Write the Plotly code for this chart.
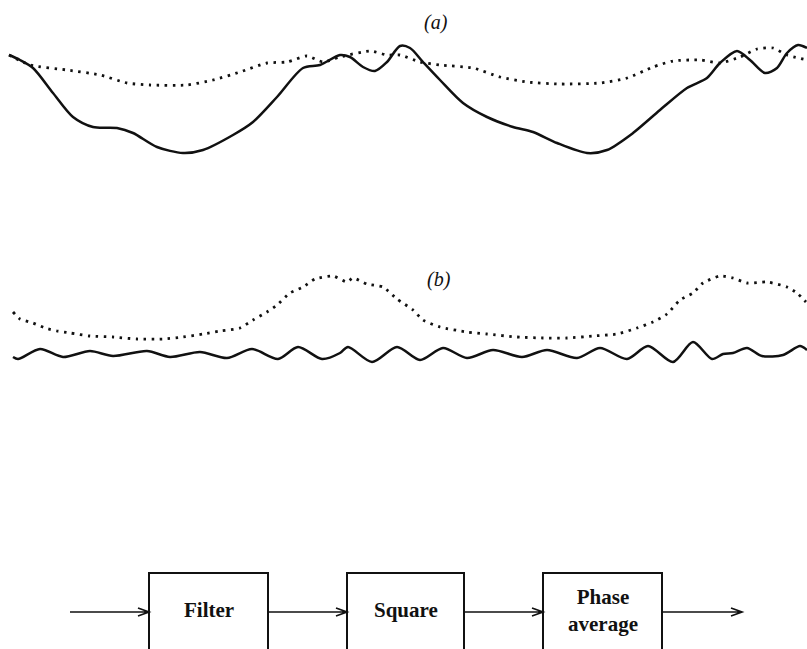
import plotly.graph_objects as go

W, H = 807, 649

# ---- (a) raw signal (solid) and its phase average (dotted) ----
t_a_raw = [9, 20, 33, 53, 73, 93, 117, 133, 157, 183, 203, 233, 253, 277, 303, 320, 340, 350,
           363, 375, 387, 400, 410, 423, 440, 463, 487, 513, 533, 557, 587, 607, 633, 660, 687,
           707, 720, 737, 750, 765, 777, 787, 798, 807]
a_raw = [105, 100, 92, 67, 43, 33, 32, 27, 13, 7, 10, 25, 38, 63, 92, 95, 105, 103,
         93, 89, 98, 114, 112, 98, 80, 57, 43, 33, 28, 17, 7, 10, 27, 50, 72,
         82, 97, 109, 100, 87, 92, 107, 115, 112]

t_a_avg = [9, 30, 67, 100, 127, 150, 187, 213, 240, 267, 287, 307, 323, 340, 370, 387, 400,
           420, 440, 473, 500, 527, 560, 600, 627, 653, 673, 700, 720, 740, 757, 773, 787, 807]
a_avg = [105, 95, 90, 85, 77, 75, 75, 80, 88, 97, 98, 104, 98, 103, 109, 105, 105,
         98, 95, 92, 83, 78, 76, 77, 82, 93, 99, 100, 97, 103, 111, 112, 105, 100]

# ---- (b) filtered signal (solid) and squared phase average (dotted) ----
t_b_flt = [13, 18, 40, 63, 90, 113, 147, 170, 200, 227, 252, 278, 298, 322, 340, 348, 372,
           397, 420, 443, 467, 493, 522, 547, 577, 600, 627, 648, 673, 693, 712, 723, 733,
           747, 762, 783, 800, 807]
b_flt = [13, 11, 21, 13, 19, 14, 19, 13, 18, 12, 21, 11, 23, 11, 17, 23, 8,
         23, 10, 22, 12, 20, 13, 20, 12, 22, 11, 24, 8, 28, 11, 16, 17,
         22, 14, 15, 24, 20]

t_b_sq = [13, 20, 33, 45, 57, 70, 90, 113, 137, 163, 183, 203, 220, 240, 253, 267, 277, 290,
          303, 315, 333, 347, 353, 367, 383, 397, 413, 423, 440, 467, 487, 517, 543, 567,
          593, 617, 637, 653, 667, 680, 693, 703, 720, 733, 747, 767, 787, 797, 806]
b_sq = [58, 51, 47, 42, 39, 37, 34, 33, 31, 31, 33, 36, 39, 42, 50, 58, 65, 77,
        83, 91, 94, 88, 92, 86, 83, 71, 60, 50, 43, 38, 36, 33, 32, 32,
        34, 36, 42, 48, 56, 70, 77, 87, 94, 92, 87, 88, 83, 77, 68]

# ---- block diagram ----
blocks = ["Filter", "Square", "Phase<br>average"]

INK = "#111111"
SOLID = dict(color=INK, width=2.5, shape="spline", smoothing=0.8)
DOTTED = dict(color=INK, width=2.8, dash="2.5px,5.5px", shape="spline", smoothing=0.6)

fig = go.Figure()
fig.add_trace(go.Scatter(x=t_a_avg, y=a_avg, mode="lines", line=DOTTED, yaxis="y"))
fig.add_trace(go.Scatter(x=t_a_raw, y=a_raw, mode="lines", line=SOLID, yaxis="y"))
fig.add_trace(go.Scatter(x=t_b_sq, y=b_sq, mode="lines", line=DOTTED, yaxis="y2"))
fig.add_trace(go.Scatter(x=t_b_flt, y=b_flt, mode="lines", line=SOLID, yaxis="y2"))


def px(x):
    return x / W


def py(y):
    return 1 - y / H


shapes = []
annotations = []

# boxes, open at the bottom edge of the page
box_x = [(149, 268), (347, 464), (543, 662)]
box_top = 573
for (x0, x1), label in zip(box_x, blocks):
    shapes.append(dict(type="rect", xref="paper", yref="paper",
                       x0=px(x0), x1=px(x1), y0=py(box_top), y1=-0.05,
                       line=dict(color=INK, width=2), fillcolor="rgba(0,0,0,0)"))
    annotations.append(dict(text=f"<b>{label}</b>", xref="paper", yref="paper",
                            x=px((x0 + x1) / 2), y=py(610), showarrow=False,
                            xanchor="center", yanchor="middle",
                            font=dict(family="Liberation Serif", size=21, color=INK)))

# connecting arrows with open heads
arrow_y = 612
arrows = [(70, 149), (268, 347), (464, 543), (662, 742)]
for x0, x1 in arrows:
    path = (f"M {px(x0)} {py(arrow_y)} L {px(x1)} {py(arrow_y)} "
            f"M {px(x1 - 11)} {py(arrow_y - 4)} L {px(x1)} {py(arrow_y)} "
            f"L {px(x1 - 11)} {py(arrow_y + 4)}")
    shapes.append(dict(type="path", xref="paper", yref="paper", path=path,
                       line=dict(color=INK, width=1.7)))

# panel labels
for lbl, xx, yy in [("(a)", 436, 22), ("(b)", 439, 280)]:
    annotations.append(dict(text=lbl, xref="paper", yref="paper", x=px(xx), y=py(yy),
                            showarrow=False, xanchor="center", yanchor="middle",
                            font=dict(family="Liberation Serif", size=20, color=INK,
                                      style="italic")))

axis_off = dict(visible=False, showgrid=False, zeroline=False, fixedrange=True)
fig.update_layout(
    width=W, height=H,
    margin=dict(l=0, r=0, t=0, b=0),
    paper_bgcolor="white", plot_bgcolor="white",
    showlegend=False,
    xaxis=dict(axis_off, range=[0, W], domain=[0, 1]),
    yaxis=dict(axis_off, range=[-10, 130], domain=[1 - 170 / H, 1 - 30 / H]),
    yaxis2=dict(axis_off, range=[-5, 105], domain=[1 - 375 / H, 1 - 265 / H], anchor="x"),
    shapes=shapes,
    annotations=annotations,
)

fig.write_html("out.html")
